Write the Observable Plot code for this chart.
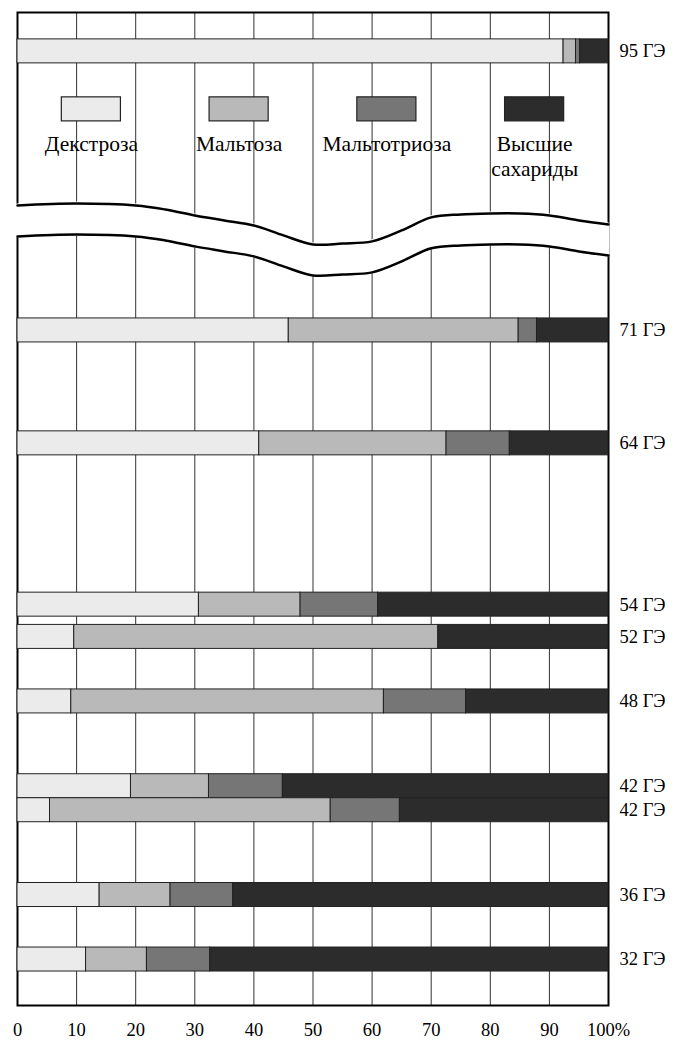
<!DOCTYPE html>
<html><head><meta charset="utf-8">
<script src="https://cdn.jsdelivr.net/npm/d3@7"></script>
<script src="https://cdn.jsdelivr.net/npm/@observablehq/plot@0.6"></script>
<style>html,body{margin:0;padding:0;background:#fff;} #chart{width:676px;height:1042px;}</style>
</head><body><div id="chart"></div>
<script>
// ---- data ----
const labels = ["95 ГЭ","71 ГЭ","64 ГЭ","54 ГЭ","52 ГЭ","48 ГЭ","42 ГЭ","42 ГЭ","36 ГЭ","32 ГЭ"];
const deValues = [95, 71, 64, 54, 52, 48, 42, 42, 36, 32];
const categories = ["Декстроза", "Мальтоза", "Мальтотриоза", "Высшие сахариды"];
const dextrose    = [92.4, 45.9, 40.9, 30.7,  9.6,  9.1, 19.2,  5.5, 13.9, 11.6];
const maltose     = [ 2.1, 38.9, 31.7, 17.2, 61.6, 52.9, 13.2, 47.5, 12.0, 10.3];
const maltotriose = [ 0.7,  3.1, 10.7, 13.1,  0.0, 13.9, 12.5, 11.7, 10.6, 10.7];
const higher      = [ 4.8, 12.1, 16.7, 39.0, 28.8, 24.1, 55.1, 35.3, 63.5, 67.4];
const xTicks = [0, 10, 20, 30, 40, 50, 60, 70, 80, 90, 100];

// ---- layout ----
const FONT = "'Liberation Serif', 'Times New Roman', serif";
const colors = ["#ebebeb", "#b9b9b9", "#767676", "#2c2c2c"];
const cut = 6.70;      // DE units removed by the axis break
const half = 0.744;    // half bar thickness (DE units)
const gapDE = 1.92;    // width of the white break band (DE units)
// break band upper edge (x in %, DE in main-panel units)
const breakX   = [0, 10, 20, 25, 30, 35, 40, 45, 50, 55, 60, 65, 70, 75, 80, 85, 90, 95, 100];
const breakTop = [78.75, 78.87, 78.75, 78.50, 78.13, 77.82, 77.51, 76.89, 76.33, 76.39, 76.52, 77.20, 78.01, 78.19, 78.25, 78.25, 78.13, 77.82, 77.57];

const series = [dextrose, maltose, maltotriose, higher];
const shiftDE = v => v > 80 ? v - cut : v;

const rows = deValues.map((v, i) => {
  const same = deValues.map((w, j) => w === v ? j : -1).filter(j => j >= 0);
  const pos = same.indexOf(i), n = same.length;
  const yc = shiftDE(v) + ((n - 1) / 2 - pos) * 2 * half;
  return {i, de: v, label: labels[i], yc};
});

const segs = [];
rows.forEach(r => {
  let x0 = 0;
  series.forEach((s, k) => {
    const val = s[r.i];
    if (val > 0) segs.push({cat: categories[k], x1: x0, x2: x0 + val, y1: r.yc - half, y2: r.yc + half});
    x0 += val;
  });
});

const wave = breakX.map((x, i) => ({x, top: breakTop[i], bottom: breakTop[i] - gapDE}));

const chart = Plot.plot({
  width: 676, height: 1042,
  marginLeft: 17, marginRight: 68, marginTop: 12, marginBottom: 37,
  style: {fontFamily: FONT, fontSize: "18px", background: "#fff", color: "#000"},
  x: {domain: [0, 100]},
  y: {domain: [29.15, 90.71], axis: null},
  color: {domain: categories, range: colors},
  marks: [
    Plot.ruleX(xTicks.slice(1, -1), {stroke: "#333", strokeWidth: 1}),
    Plot.frame({stroke: "#000", strokeWidth: 2}),
    Plot.areaY(wave, {x: "x", y1: "bottom", y2: "top", curve: "catmull-rom", fill: "#fff", stroke: "#fff", strokeWidth: 3}),
    Plot.line(wave, {x: "x", y: "top", curve: "catmull-rom", stroke: "#000", strokeWidth: 2.5}),
    Plot.line(wave, {x: "x", y: "bottom", curve: "catmull-rom", stroke: "#000", strokeWidth: 2.5}),
    Plot.rect(segs, {x1: "x1", x2: "x2", y1: "y1", y2: "y2", fill: "cat", stroke: "#222", strokeWidth: 1}),
    Plot.text(rows, {x: 100, y: "yc", text: "label", textAnchor: "start", dx: 11, fontSize: 18.5, fontFamily: FONT, fill: "#000"}),
    // legend inside the upper panel
    Plot.rect(categories, {x1: (d, i) => 7.5 + 25 * i, x2: (d, i) => 17.5 + 25 * i, y1: shiftDE(90.66), y2: shiftDE(92.15), fill: d => d, stroke: "#222", strokeWidth: 1.2}),
    Plot.text(categories, {x: (d, i) => 12.5 + 25 * i, y: shiftDE(89.92), text: d => d, lineAnchor: "top", lineWidth: 5, lineHeight: 1.15, fontSize: 21.5, fontFamily: FONT, fill: "#000"}),
    Plot.axisX({ticks: xTicks, tickSize: 0, tickPadding: 17, tickFormat: d => d === 100 ? "100%" : String(d), fontSize: 18.5, fontFamily: FONT, fill: "#000", label: null})
  ]
});
document.getElementById("chart").appendChild(chart);
</script>
</body></html>
